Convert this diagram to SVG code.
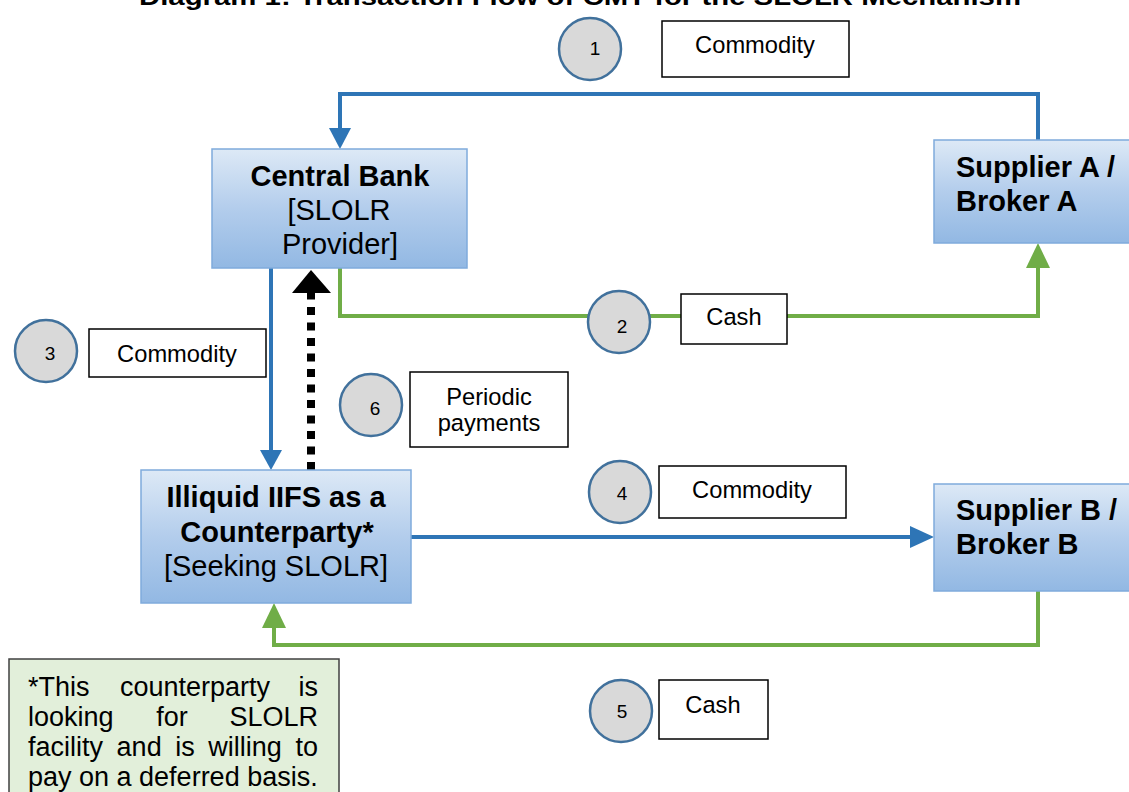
<svg xmlns="http://www.w3.org/2000/svg" width="1129" height="792" viewBox="0 0 1129 792">
<style>
.node{stroke:#7fabdc;stroke-width:1.5;fill:url(#g)}
.nt{font-family:"Liberation Sans",Arial,sans-serif;font-size:29px;fill:#000;text-anchor:middle}
.ns{font-family:"Liberation Sans",Arial,sans-serif;font-size:29px;font-weight:bold;fill:#000}
.b{font-weight:bold}
.blue{fill:none;stroke:#2e75b6;stroke-width:4}
.green{fill:none;stroke:#70ad47;stroke-width:4}
.ahb{fill:#2e75b6}
.ahg{fill:#70ad47}
.circ{fill:#d9d9d9;stroke:#41719c;stroke-width:2.5}
.ct{font-family:"Liberation Sans",Arial,sans-serif;font-size:19px;text-anchor:middle}
.lb{fill:#fff;stroke:#000;stroke-width:1.5}
.lt{font-family:"Liberation Sans",Arial,sans-serif;font-size:23.7px;text-anchor:middle}
.note{font-family:"Liberation Sans",Arial,sans-serif;font-size:27px}
</style>
<defs>
<linearGradient id="g" x1="0" y1="0" x2="0" y2="1">
<stop offset="0" stop-color="#dde9f6"/>
<stop offset="0.5" stop-color="#b3cdec"/>
<stop offset="1" stop-color="#92b8e3"/>
</linearGradient>
</defs>
<rect width="1129" height="792" fill="#fff"/>
<text x="580" y="5" font-family="Liberation Sans,Arial,sans-serif" font-weight="bold" font-size="24" text-anchor="middle" textLength="882" lengthAdjust="spacingAndGlyphs">Diagram 1: Transaction Flow of CMT for the SLOLR Mechanism</text>

<g id="connectors">
<path class="blue" d="M1038,140 V94 H340 V130"/>
<polygon class="ahb" points="329,128 351,128 340,149"/>
<path class="green" d="M340,268 V316 H1038 V266"/>
<polygon class="ahg" points="1026,268 1050,268 1038,243"/>
<path class="blue" d="M271,268 V452"/>
<polygon class="ahb" points="260,450 282,450 271,470"/>
<path class="blue" d="M411,537 H912"/>
<polygon class="ahb" points="910,526 910,548 934,537"/>
<path class="green" d="M1038,591 V645 H274 V626"/>
<polygon class="ahg" points="262,628 286,628 274,603"/>
<path d="M311,470 V293" fill="none" stroke="#000" stroke-width="8" stroke-dasharray="8,7.5"/>
<polygon points="292,293 311,270 331,293" fill="#000"/>
</g>

<g id="central-bank">
<rect class="node" x="212" y="149" width="255" height="119"/>
<text class="nt b" x="340" y="186">Central Bank</text>
<text class="nt" x="339" y="220">[SLOLR</text>
<text class="nt" x="340" y="254">Provider]</text>
</g>
<g id="supplier-a">
<rect class="node" x="934" y="140" width="200" height="103"/>
<text class="ns" x="956" y="177">Supplier A /</text>
<text class="ns" x="956" y="211">Broker A</text>
</g>
<g id="illiquid">
<rect class="node" x="141" y="470" width="270" height="133"/>
<text class="nt b" x="276" y="507">Illiquid IIFS as a</text>
<text class="nt b" x="277" y="542">Counterparty*</text>
<text class="nt" x="276" y="576">[Seeking SLOLR]</text>
</g>
<g id="supplier-b">
<rect class="node" x="934" y="484" width="200" height="107"/>
<text class="ns" x="956" y="520">Supplier B /</text>
<text class="ns" x="956" y="554">Broker B</text>
</g>

<g id="step1">
<circle class="circ" cx="590" cy="49" r="31"/>
<text class="ct" x="595" y="55">1</text>
<rect class="lb" x="662" y="21" width="187" height="56"/>
<text class="lt" x="755" y="53">Commodity</text>
</g>
<g id="step2">
<circle class="circ" cx="619" cy="322" r="31"/>
<text class="ct" x="622" y="333">2</text>
<rect class="lb" x="681" y="294" width="106" height="50"/>
<text class="lt" x="734" y="325">Cash</text>
</g>
<g id="step3">
<circle class="circ" cx="46" cy="351" r="31"/>
<text class="ct" x="50" y="360">3</text>
<rect class="lb" x="89" y="329" width="177" height="48"/>
<text class="lt" x="177" y="362">Commodity</text>
</g>
<g id="step4">
<circle class="circ" cx="620" cy="492" r="31"/>
<text class="ct" x="622" y="500">4</text>
<rect class="lb" x="659" y="466" width="187" height="52"/>
<text class="lt" x="752" y="498">Commodity</text>
</g>
<g id="step5">
<circle class="circ" cx="621" cy="711" r="31"/>
<text class="ct" x="622" y="718">5</text>
<rect class="lb" x="659" y="680" width="109" height="59"/>
<text class="lt" x="713" y="713">Cash</text>
</g>
<g id="step6">
<circle class="circ" cx="371" cy="405" r="31"/>
<text class="ct" x="375" y="415">6</text>
<rect class="lb" x="410" y="372" width="158" height="75"/>
<text class="lt" x="489" y="405">Periodic</text>
<text class="lt" x="489" y="431">payments</text>
</g>

<g id="note">
<rect x="9" y="659" width="330" height="140" fill="#e2efda" stroke="#404040" stroke-width="1.5"/>
<text class="note" x="28" y="696">*This</text>
<text class="note" x="195" y="696" text-anchor="middle">counterparty</text>
<text class="note" x="318" y="696" text-anchor="end">is</text>
<text class="note" x="28" y="726">looking</text>
<text class="note" x="172" y="726" text-anchor="middle">for</text>
<text class="note" x="318" y="726" text-anchor="end">SLOLR</text>
<text class="note" x="28" y="756">facility</text>
<text class="note" x="116.6" y="756">and</text>
<text class="note" x="175.2" y="756">is</text>
<text class="note" x="208.3" y="756">willing</text>
<text class="note" x="318" y="756" text-anchor="end">to</text>
<text class="note" x="28" y="786">pay on a deferred basis.</text>
</g>
</svg>
